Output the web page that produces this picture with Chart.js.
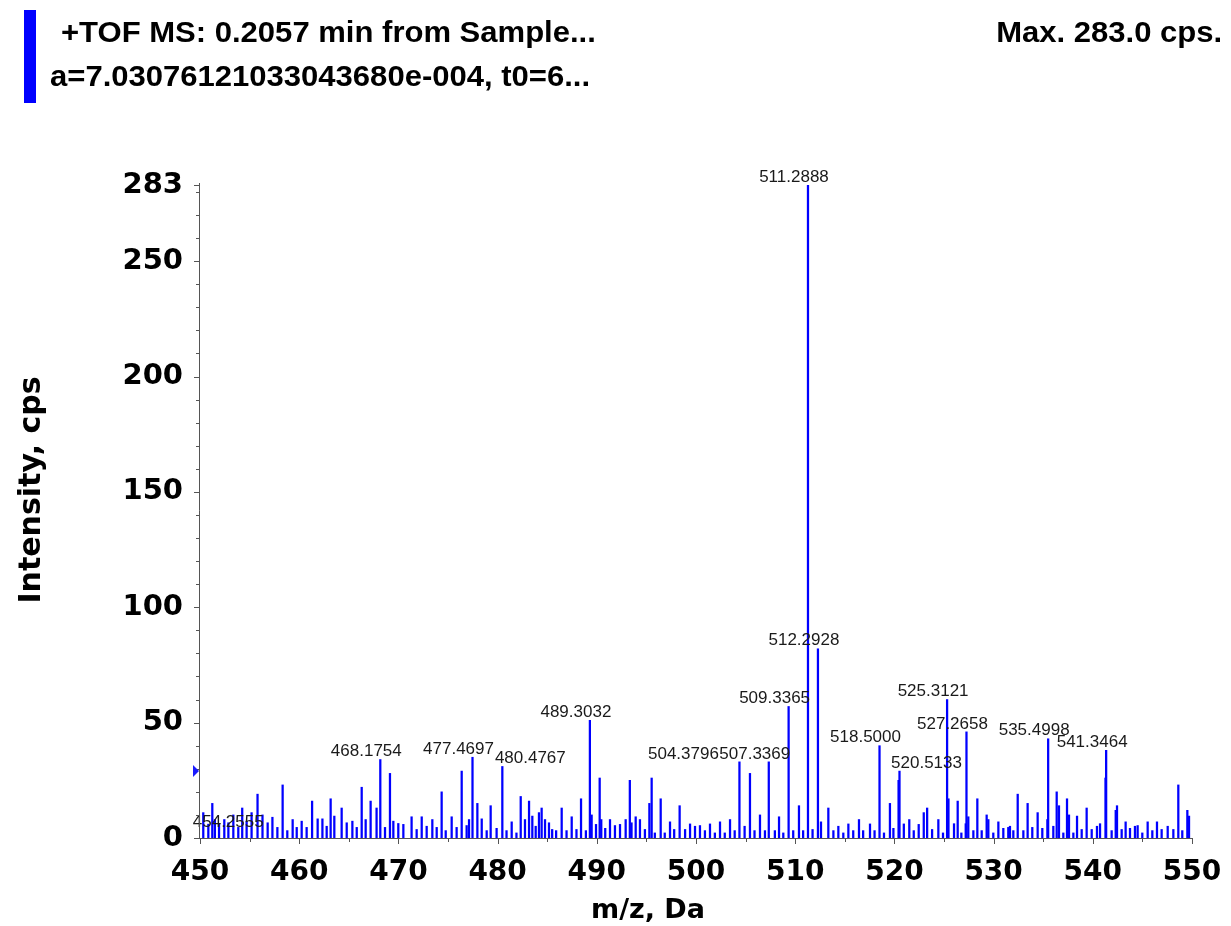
<!DOCTYPE html>
<html>
<head>
<meta charset="utf-8">
<script src="https://cdn.jsdelivr.net/npm/chart.js@4.4.1/dist/chart.umd.min.js"></script>
<style>
  html, body { margin: 0; padding: 0; background: #ffffff; }
  #wrap { position: relative; width: 1231px; height: 926px; overflow: hidden; }
  canvas { position: absolute; left: 0; top: 0; }
  .hdr { position: absolute; font-family: "Liberation Sans", Arial, sans-serif; font-weight: bold; font-size: 29px; line-height: 29px; color: #000; white-space: nowrap; }
  #bar { position: absolute; left: 24px; top: 10px; width: 12px; height: 93px; background: #0000ff; }
</style>
</head>
<body>
<div id="wrap">
  <canvas id="c" width="1231" height="926"></canvas>
  <div id="bar"></div>
  <div class="hdr" id="h1" style="left:61px; top:18px; transform-origin:left top; transform:scaleX(1.07);">+TOF MS: 0.2057 min from Sample...</div>
  <div class="hdr" id="h2" style="left:50px; top:62px; transform-origin:left top; transform:scaleX(1.07);">a=7.03076121033043680e-004, t0=6...</div>
  <div class="hdr" id="h3" style="right:9px; top:18px; transform-origin:right top; transform:scaleX(1.07);">Max. 283.0 cps.</div>
</div>
<script>
// ---------------- data ----------------
const mzValues = [
  450.33,450.84,451.24,451.50,451.92,452.45,452.86,453.36,453.86,454.2555,454.70,455.20,455.80,456.30,456.82,457.30,457.80,458.33,458.80,459.34,459.75,
  460.25,460.75,461.30,461.86,462.34,462.77,463.17,463.54,464.28,464.79,465.36,465.80,466.30,466.70,467.20,467.80,468.1754,468.65,469.15,469.49,469.99,
  470.50,471.33,471.84,472.35,472.85,473.42,473.86,474.36,474.77,475.37,475.87,476.38,476.88,477.12,477.4697,477.96,478.40,478.90,479.30,479.90,
  480.4767,480.90,481.42,481.90,482.33,482.76,483.17,483.50,483.84,484.17,484.44,484.78,485.18,485.50,485.90,486.46,486.95,487.47,487.95,488.41,488.90,
  489.3032,489.48,489.92,490.29,490.45,490.85,491.33,491.83,492.34,492.91,493.33,493.50,493.92,494.35,494.85,495.30,495.53,495.85,496.44,496.85,
  497.38,497.80,498.35,498.90,499.40,499.90,500.40,500.90,501.41,501.90,502.42,502.90,503.43,503.90,504.3796,504.90,505.44,505.90,506.45,506.95,
  507.3369,507.95,508.37,508.80,509.3365,509.80,510.38,510.80,511.2888,511.75,512.2928,512.60,513.34,513.85,514.35,514.85,515.36,515.85,516.43,516.85,
  517.54,518.00,518.5000,518.95,519.55,519.90,520.42,520.5133,520.95,521.50,521.95,522.45,522.96,523.30,523.80,524.43,524.90,525.3121,525.45,
  526.01,526.38,526.75,527.19,527.2658,527.45,527.96,528.36,528.80,529.30,529.47,529.97,530.48,530.98,531.48,531.65,531.99,532.43,533.00,533.43,533.90,
  534.44,534.91,535.42,535.4998,536.02,536.36,536.59,537.03,537.40,537.60,538.04,538.41,538.88,539.38,539.89,540.42,540.73,541.28,541.3464,541.90,
  542.31,542.44,542.91,543.31,543.75,544.25,544.52,544.99,545.53,546.00,546.47,546.94,547.55,548.12,548.62,549.02,549.53,549.70
];
const intensities = [
  11,6,15,8,6,8,6.6,10,4.6,13,7.3,11,19,10,6.6,9,4.6,23,3.2,8,4.6,
  7.3,4.6,16,8.3,8.3,5.1,17,9.5,13,6.6,7.3,4.6,22,8,16,13,34,4.6,28,7.3,6.3,
  5.9,9.2,3.7,9.2,5.1,8,4.6,20,3.2,9.2,4.6,29,5.4,8,35,15,8.3,3.2,14,4.2,
  31,3.2,7,2.2,18,8,16,9.5,5.1,11,13,8,6.6,3.7,3.2,13,3.2,9.2,3.7,17,3.2,
  51,10,5.9,26,8,4.2,8,5.4,5.9,8,25,6.6,9.2,8,3.7,15,26,2.2,17,2.2,
  7,3.7,14,3.7,6.1,5.1,5.4,3.2,6.1,2.2,7,2.2,8,3.2,33,5.1,28,3.2,10,3.2,
  33,3.2,9.2,2.2,57,3.2,14,3.2,283,3.7,82,7,13,3.2,5.1,2.2,6.1,3.2,8,3.2,
  6.1,3.2,40,2.2,15,4.2,25,29,6.1,8,3.2,5.9,11,13,3.7,8,2.2,60,17,
  6.2,16,2.2,6.2,46,9.2,3.2,17,3.2,10,8,2.2,7,4.2,4.6,5.1,3.2,19,3.2,15,4.6,
  11,4.2,8,43,5.1,20,14,2.2,17,10,2.2,9.5,3.7,13,3.7,5.1,6.2,26,38,3.2,
  12,14,3.7,7,4.2,5.1,5.4,2.2,7,3.2,7,3.7,5.1,3.7,23,3.2,12,9.5
];
// annotated peaks
const labelMz = [454.2555,468.1754,477.4697,480.4767,489.3032,504.3796,507.3369,509.3365,511.2888,512.2928,518.5000,520.5133,525.3121,527.2658,535.4998,541.3464];
const labelLevel = [3.2,34,35,31,51,33,33,57,283,82,40,29,60,46,43,38];
// axis ticks
const xTickValues = [450,460,470,480,490,500,510,520,530,540,550];
const yTickValues = [0,50,100,150,200,250,283];
const thresholdLevel = 29;

// ---------------- styling (not data) ----------------
const labelShiftPx = { '480.4767': 28, '504.3796': -56, '520.5133': 27 };
const axisColor = '#555555';

const spectrum = mzValues.map((m, i) => ({ x: m, y: intensities[i] }));

const decorPlugin = {
  id: 'decor',
  afterDatasetsDraw(chart) {
    const { ctx, scales: { x, y } } = chart;
    ctx.save();
    ctx.font = '17px "Liberation Sans", Arial, sans-serif';
    ctx.fillStyle = '#1a1a1a';
    ctx.textAlign = 'center';
    ctx.textBaseline = 'middle';
    labelMz.forEach((m, i) => {
      const txt = m.toFixed(4);
      const dx = labelShiftPx[txt] !== undefined ? labelShiftPx[txt] : -14;
      const px = x.getPixelForValue(m) + dx;
      const py = y.getPixelForValue(labelLevel[i]) - 8;
      ctx.fillText(txt, px, py);
    });
    ctx.restore();
  },
  afterDraw(chart) {
    const { ctx, chartArea: a, scales: { x, y } } = chart;
    ctx.save();
    ctx.strokeStyle = axisColor;
    ctx.lineWidth = 1;
    ctx.beginPath();
    ctx.moveTo(a.left - 0.5, y.getPixelForValue(283) - 2);
    ctx.lineTo(a.left - 0.5, a.bottom + 0.5);
    ctx.lineTo(a.right, a.bottom + 0.5);
    ctx.stroke();
    ctx.beginPath();
    for (let v = 0; v <= 280; v += 10) {
      const py = Math.round(y.getPixelForValue(v)) + 0.5;
      const len = v % 50 === 0 ? 6 : 4;
      ctx.moveTo(a.left - len, py); ctx.lineTo(a.left, py);
    }
    const pTop = Math.round(y.getPixelForValue(283)) + 0.5;
    ctx.moveTo(a.left - 6, pTop); ctx.lineTo(a.left, pTop);
    for (let v = 450; v <= 550; v += 5) {
      const px = Math.round(x.getPixelForValue(v)) + 0.5;
      const len = v % 10 === 0 ? 6 : 4;
      ctx.moveTo(px, a.bottom); ctx.lineTo(px, a.bottom + len);
    }
    ctx.stroke();
    const ty = y.getPixelForValue(thresholdLevel);
    ctx.fillStyle = '#1a1aff';
    ctx.beginPath();
    ctx.moveTo(a.left - 1, ty);
    ctx.lineTo(a.left - 7, ty - 6);
    ctx.lineTo(a.left - 7, ty + 6);
    ctx.closePath();
    ctx.fill();
    ctx.fillStyle = '#000';
    ctx.font = 'bold 27px "DejaVu Sans", sans-serif';
    ctx.textAlign = 'center';
    ctx.textBaseline = 'alphabetic';
    ctx.fillText('m/z, Da', 648, 918);
    ctx.font = 'bold 30px "DejaVu Sans", sans-serif';
    ctx.translate(40, 490);
    ctx.rotate(-Math.PI / 2);
    ctx.fillText('Intensity, cps', 0, 0);
    ctx.restore();
  }
};

new Chart(document.getElementById('c'), {
  type: 'bar',
  data: {
    datasets: [{
      data: spectrum,
      backgroundColor: '#0000ff',
      borderWidth: 0,
      barThickness: 1.6,
      grouped: false
    }]
  },
  options: {
    responsive: false,
    devicePixelRatio: 1,
    animation: false,
    events: [],
    layout: { padding: { top: 185, right: 39, bottom: 0, left: 0 } },
    plugins: { legend: { display: false }, tooltip: { enabled: false } },
    scales: {
      x: {
        type: 'linear',
        min: 450, max: 550,
        offset: false,
        grid: { display: false, drawTicks: false },
        border: { display: false },
        afterBuildTicks: (s) => { s.ticks = xTickValues.map(v => ({ value: v })); },
        afterFit: (s) => { s.height = 88; s.paddingLeft = 0; s.paddingRight = 0; },
        ticks: {
          autoSkip: false, maxRotation: 0, padding: 18, color: '#000',
          font: { family: '"DejaVu Sans", sans-serif', weight: 'bold', size: 28 }
        }
      },
      y: {
        type: 'linear',
        min: 0, max: 283,
        grid: { display: false, drawTicks: false },
        border: { display: false },
        afterBuildTicks: (s) => { s.ticks = yTickValues.map(v => ({ value: v })); },
        afterFit: (s) => { s.width = 200; s.paddingTop = 0; s.paddingBottom = 0; },
        ticks: {
          autoSkip: false, padding: 17, color: '#000',
          font: { family: '"DejaVu Sans", sans-serif', weight: 'bold', size: 29 }
        }
      }
    }
  },
  plugins: [decorPlugin]
});
</script>
</body>
</html>
